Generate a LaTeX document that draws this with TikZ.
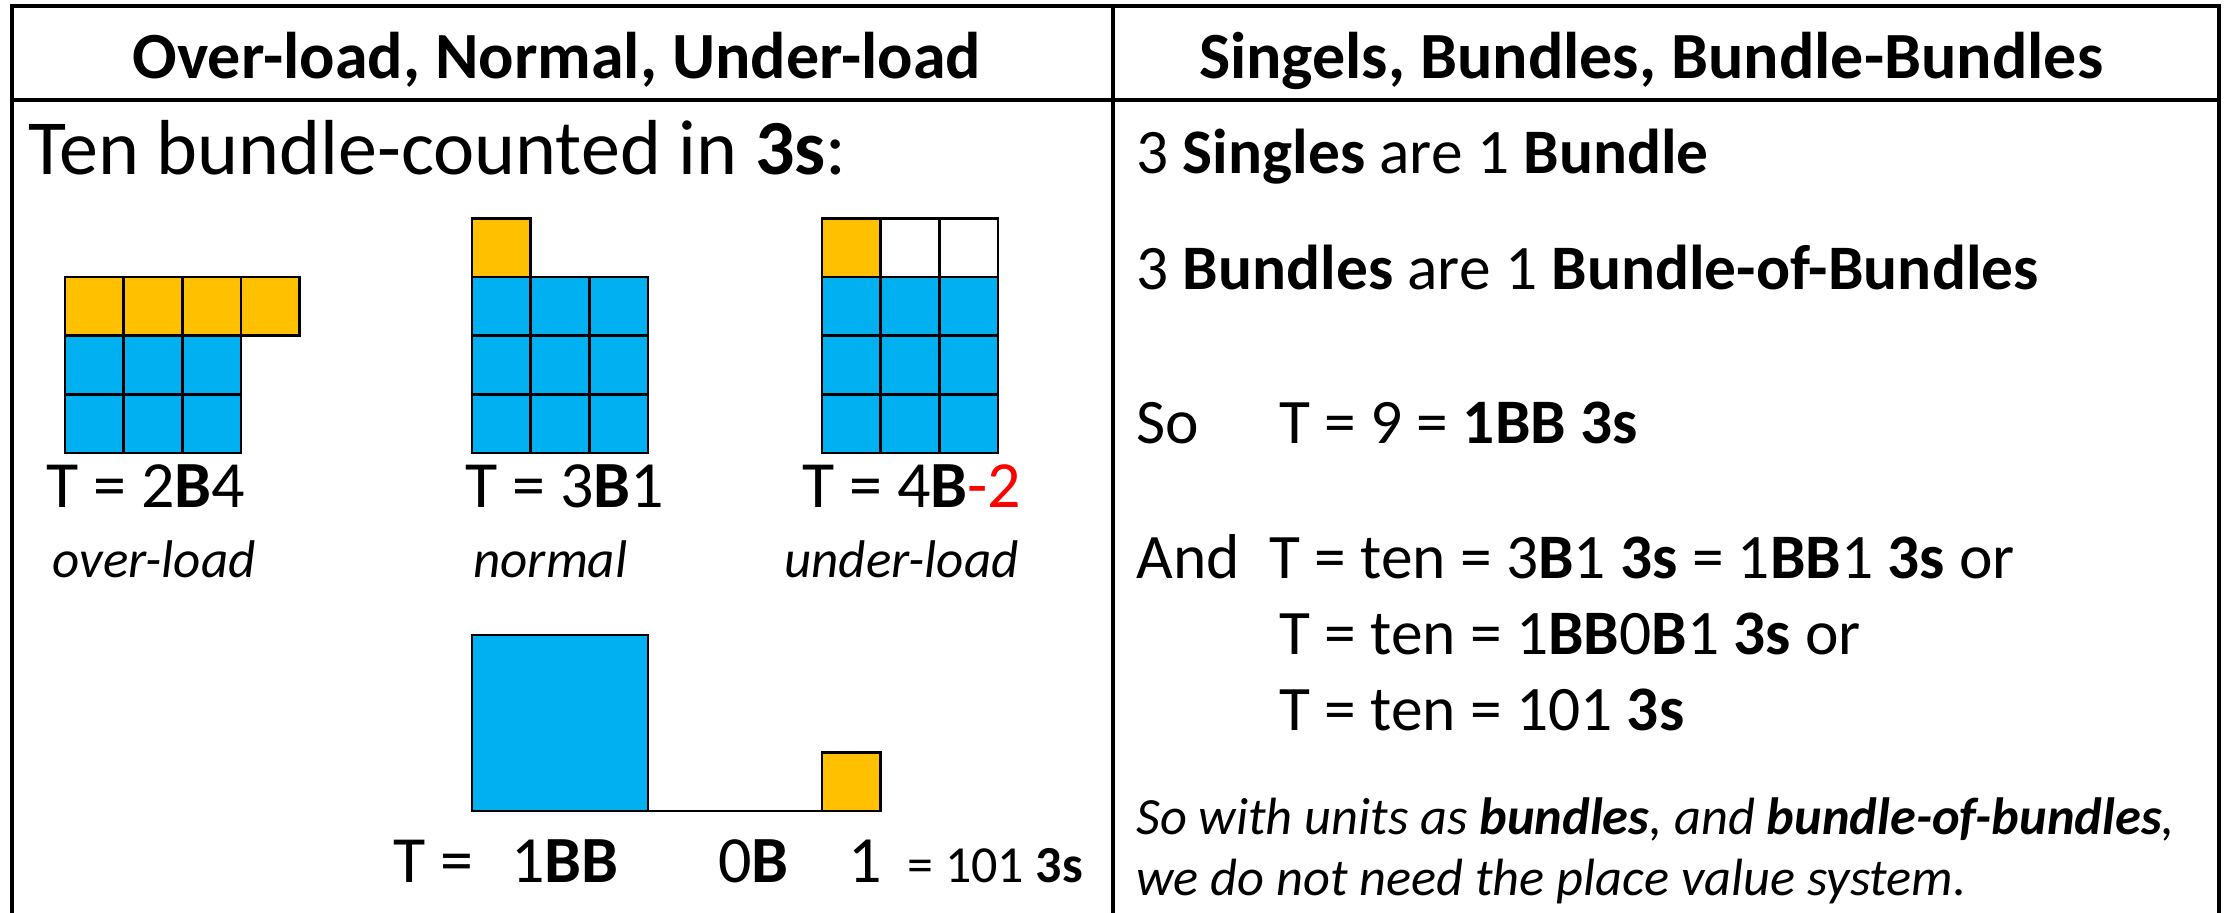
\documentclass[tikz,border=0pt]{standalone}
\usepackage{fontspec}
\setmainfont{Carlito}
\definecolor{cellblue}{HTML}{00B0F0}
\definecolor{cellyellow}{HTML}{FFC000}
\definecolor{minusred}{HTML}{FF0000}
\begin{document}
\begin{tikzpicture}[x=0.5pt,y=-0.5pt,
  frame/.style={line width=1.6pt, line cap=rect},
  cell/.style={draw=black, line width=1.3pt},
  bcell/.style={cell, fill=cellblue},
  ycell/.style={cell, fill=cellyellow},
  wcell/.style={cell, fill=white},
  txt/.style={anchor=base west, inner sep=0pt},
  headtext/.style={anchor=base, inner sep=0pt, font=\fontsize{33}{40}\selectfont\bfseries},
  titletext/.style={txt, font=\fontsize{39}{47}\selectfont},
  labtext/.style={txt, font=\fontsize{33}{40}\selectfont},
  kindtext/.style={txt, font=\fontsize{26.5}{32}\selectfont\itshape},
  rowtext/.style={txt, font=\fontsize{31.7}{38}\selectfont},
  notetext/.style={txt, font=\fontsize{26.2}{31}\selectfont\itshape},
  smalltext/.style={txt, font=\fontsize{26}{31}\selectfont}]
\useasboundingbox (0,0) rectangle (2224,912);
\def\cs{58.6}

% table frame
\draw[frame] (12,912) -- (12,6) -- (2219,6) -- (2219,912);
\draw[frame] (12,100) -- (2219,100);
\draw[frame] (1113,6) -- (1113,912);

% headers
\node[headtext] (h1) at (557,78) {Over-load, Normal, Under-load};
\node[headtext] (h2) at (1651,78) {Singels, Bundles, Bundle-Bundles};

\node[titletext] (ten) at (28,174) {Ten bundle-counted in \textbf{3s}:};

% over-load: 2 bundles and 4 singles
\foreach \i in {0,1,2,3} \draw[ycell] (65+\i*\cs,277) rectangle ++(\cs,\cs);
\foreach \r in {1,2} \foreach \i in {0,1,2}
  \draw[bcell] (65+\i*\cs,277+\r*\cs) rectangle ++(\cs,\cs);

% normal: 3 bundles and 1 single
\draw[ycell] (472,218.4) rectangle ++(\cs,\cs);
\foreach \r in {1,2,3} \foreach \i in {0,1,2}
  \draw[bcell] (472+\i*\cs,218.4+\r*\cs) rectangle ++(\cs,\cs);

% under-load: 4 bundles less 2
\draw[ycell] (822,218.4) rectangle ++(\cs,\cs);
\foreach \i in {1,2} \draw[wcell] (822+\i*\cs,218.4) rectangle ++(\cs,\cs);
\foreach \r in {1,2,3} \foreach \i in {0,1,2}
  \draw[bcell] (822+\i*\cs,218.4+\r*\cs) rectangle ++(\cs,\cs);

\node[labtext] (l1) at (46,507) {T = 2\textbf{B}4};
\node[labtext] (l2) at (465,507) {T = 3\textbf{B}1};
\node[labtext] (l3) at (802,507) {T = 4\textbf{B}\textcolor{minusred}{-2}};
\node[kindtext] (c1) at (52,577) {over-load};
\node[kindtext] (c2) at (473,577) {normal};
\node[kindtext] (c3) at (784,577) {under-load};

% bundle-of-bundles, no bundle, one single
\draw[bcell] (472,635) rectangle (648,811);
\draw[cell] (648,811) -- (822,811);
\draw[ycell] (822,752.4) rectangle ++(\cs,\cs);

\node[labtext] (b0) at (393,882) {T =};
\node[labtext] (b1) at (511,882) {1\textbf{BB}};
\node[labtext] (b2) at (718,882) {0\textbf{B}};
\node[labtext] (b3) at (848,882) {1};
\node[smalltext] (b4) at (907,882) {= 101 \textbf{3s}};

% right column
\node[rowtext] (r1) at (1136,173) {3 \textbf{Singles} are 1 \textbf{Bundle}};
\node[rowtext] (r2) at (1136,289) {3 \textbf{Bundles} are 1 \textbf{Bundle-of-Bundles}};
\node[rowtext] (r3) at (1136,443) {So};
\node[rowtext] (r3b) at (1279,443) {T = 9 = \textbf{1BB 3s}};
\node[rowtext] (r4) at (1136,578) {And};
\node[rowtext] (r4b) at (1269,578) {T = ten = 3\textbf{B}1 \textbf{3s} = 1\textbf{BB}1 \textbf{3s} or};
\node[rowtext] (r5) at (1279,654) {T = ten = 1\textbf{BB}0\textbf{B}1 \textbf{3s} or};
\node[rowtext] (r6) at (1279,730) {T = ten = 101 \textbf{3s}};
\node[notetext] (n1) at (1136,834) {So with units as \textbf{bundles}, and \textbf{bundle-of-bundles},};
\node[notetext] (n2) at (1136,895) {we do not need the place value system.};
\end{tikzpicture}
\end{document}
